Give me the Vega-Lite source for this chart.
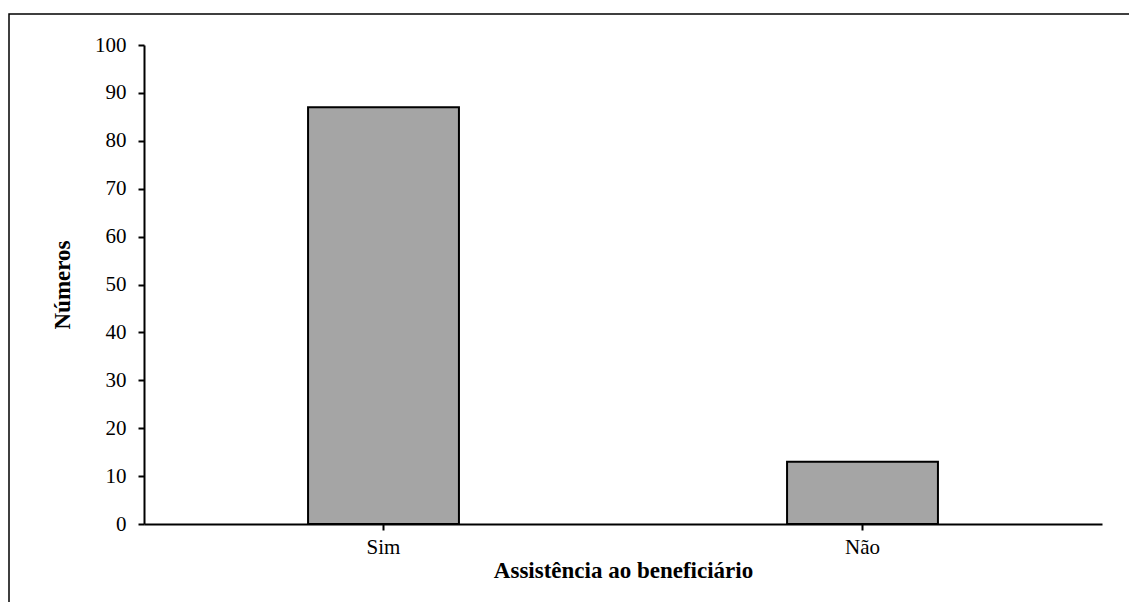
{
  "$schema": "https://vega.github.io/schema/vega-lite/v6.json",
  "autosize": "none",
  "padding": {"left": 9, "top": 14, "right": 0, "bottom": 0},
  "width": 1126,
  "height": 596,
  "background": "white",
  "config": {
    "view": {"stroke": "#000000", "strokeWidth": 1.5},
    "font": "Liberation Serif"
  },
  "data": {
    "values": [
      {"category": "Sim", "value": 87},
      {"category": "Não", "value": 13}
    ]
  },
  "mark": {"type": "bar", "fill": "#a5a5a5", "stroke": "#000000", "strokeWidth": 2},
  "encoding": {
    "x": {
      "field": "category",
      "type": "nominal",
      "sort": ["Sim", "Não"],
      "scale": {"range": [135, 1093], "paddingInner": 0.685, "paddingOuter": 0.3425},
      "axis": {
        "title": "Assistência ao beneficiário",
        "titleFont": "Liberation Serif",
        "titleFontSize": 23,
        "titleFontWeight": "bold",
        "titleColor": "#000000",
        "titlePadding": 2,
        "labelFont": "Liberation Serif",
        "labelFontSize": 21,
        "labelColor": "#000000",
        "labelAngle": 0,
        "labelPadding": 6,
        "domainColor": "#000000",
        "domainWidth": 2,
        "tickColor": "#000000",
        "tickWidth": 2,
        "tickSize": 6,
        "offset": -86,
        "grid": false
      }
    },
    "y": {
      "field": "value",
      "type": "quantitative",
      "scale": {"domain": [0, 100], "range": [510, 31], "nice": false},
      "axis": {
        "title": "Números",
        "titleFont": "Liberation Serif",
        "titleFontSize": 23,
        "titleFontWeight": "bold",
        "titleColor": "#000000",
        "titlePadding": 20,
        "labelFont": "Liberation Serif",
        "labelFontSize": 21,
        "labelColor": "#000000",
        "labelPadding": 12,
        "values": [0, 10, 20, 30, 40, 50, 60, 70, 80, 90, 100],
        "domainColor": "#000000",
        "domainWidth": 2,
        "tickColor": "#000000",
        "tickWidth": 2,
        "tickSize": 6,
        "offset": -135,
        "grid": false
      }
    }
  }
}
